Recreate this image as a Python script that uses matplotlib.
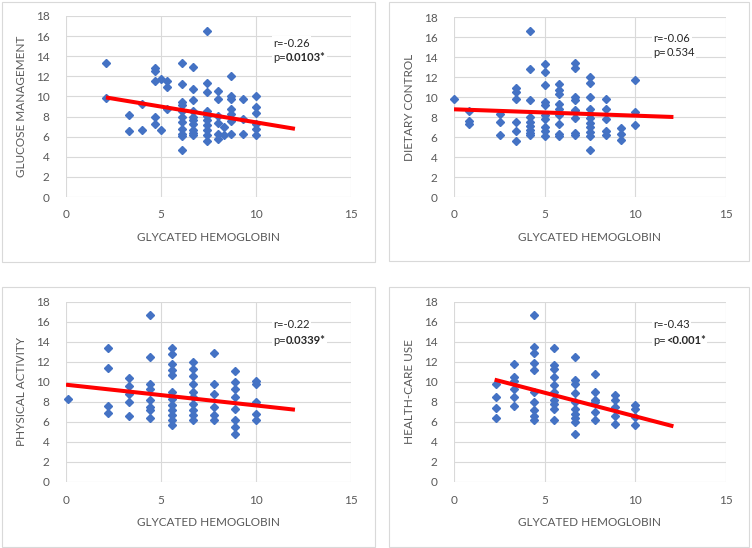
import matplotlib
matplotlib.use("Agg")
import matplotlib.pyplot as plt
from matplotlib.patches import Rectangle

plt.rcParams['font.family'] = ['Lato', 'DejaVu Sans']

# glycated hemoglobin vs glucose management
glucose_x = [2.1, 2.1, 3.3, 3.3, 4.0, 4.0, 4.7, 4.7, 4.7, 4.7, 4.7, 5.0, 5.0, 5.3, 5.3, 5.3,
             6.1, 6.1, 6.1, 6.1, 6.1, 6.1, 6.1, 6.1, 6.1, 6.1, 6.1,
             6.7, 6.7, 6.7, 6.7, 6.7, 6.7, 6.7, 6.7, 6.7, 6.7,
             7.4, 7.4, 7.4, 7.4, 7.4, 7.4, 7.4, 7.4, 7.4, 7.4,
             8.0, 8.0, 8.0, 8.0, 8.0, 8.0, 8.3, 8.3,
             8.7, 8.7, 8.7, 8.7, 8.7, 8.7, 8.7, 9.3, 9.3, 9.3,
             10.0, 10.0, 10.0, 10.0, 10.0, 10.0]
glucose_y = [13.3, 9.8, 8.2, 6.55, 9.2, 6.65, 12.8, 12.5, 11.5, 8.0, 7.25, 11.7, 6.65, 11.5, 10.95, 8.8,
             13.3, 11.2, 9.4, 9.1, 8.6, 8.0, 7.5, 6.8, 6.3, 6.05, 4.7,
             12.9, 10.7, 9.6, 8.6, 8.0, 7.7, 7.25, 6.7, 6.4, 6.15,
             16.5, 11.3, 10.4, 8.6, 8.1, 7.65, 7.15, 6.65, 6.15, 5.55,
             10.55, 9.7, 8.05, 7.4, 6.3, 5.8, 7.0, 6.2,
             12.0, 10.0, 9.75, 8.8, 8.3, 7.6, 6.3, 9.75, 7.8, 6.3,
             10.0, 9.0, 8.4, 7.3, 6.8, 6.15]

# glycated hemoglobin vs dietary control
dietary_x = [0.0, 0.85, 0.85, 0.85, 2.55, 2.55, 2.55,
             3.4, 3.4, 3.4, 3.4, 3.4, 3.4,
             4.2, 4.2, 4.2, 4.2, 4.2, 4.2, 4.2, 4.2, 4.2,
             5.0, 5.0, 5.0, 5.0, 5.0, 5.0, 5.0, 5.0, 5.0, 5.0,
             5.8, 5.8, 5.8, 5.8, 5.8, 5.8, 5.8, 5.8, 5.8,
             6.7, 6.7, 6.7, 6.7, 6.7, 6.7, 6.7, 6.7, 6.7,
             7.5, 7.5, 7.5, 7.5, 7.5, 7.5, 7.5, 7.5, 7.5, 7.5, 7.5,
             8.4, 8.4, 8.4, 8.4, 8.4, 9.2, 9.2, 9.2, 10.0, 10.0, 10.0]
dietary_y = [9.77, 8.6, 7.6, 7.27, 8.33, 7.5, 6.2,
             10.9, 10.5, 9.8, 7.5, 6.6, 5.6,
             16.6, 12.8, 9.67, 8.0, 7.5, 7.07, 6.73, 6.4, 6.17,
             13.33, 12.5, 11.17, 9.5, 9.17, 8.17, 7.83, 7.0, 6.6, 6.07,
             11.33, 10.73, 10.33, 9.27, 8.83, 8.17, 7.27, 6.33, 6.07,
             13.4, 12.9, 10.0, 9.67, 8.73, 8.5, 7.93, 6.4, 6.17,
             12.0, 11.4, 10.0, 8.83, 8.33, 7.93, 7.4, 7.0, 6.5, 6.07, 4.73,
             9.8, 8.8, 7.83, 6.57, 6.17, 6.9, 6.33, 5.73, 11.73, 8.5, 7.17]

# glycated hemoglobin vs physical activity
physical_x = [0.1, 2.2, 2.2, 2.2, 2.2, 3.3, 3.3, 3.3, 3.3, 3.3,
              4.4, 4.4, 4.4, 4.4, 4.4, 4.4, 4.4, 4.4,
              5.6, 5.6, 5.6, 5.6, 5.6, 5.6, 5.6, 5.6, 5.6, 5.6, 5.6, 5.6,
              6.7, 6.7, 6.7, 6.7, 6.7, 6.7, 6.7, 6.7, 6.7, 6.7,
              7.8, 7.8, 7.8, 7.8, 7.8, 7.8,
              8.9, 8.9, 8.9, 8.9, 8.9, 8.9, 8.9, 8.9,
              10.0, 10.0, 10.0, 10.0, 10.0]
physical_y = [8.3, 13.4, 11.43, 7.6, 6.93, 10.43, 9.63, 8.77, 8.0, 6.6,
              16.67, 12.5, 9.83, 9.33, 8.17, 7.5, 7.17, 6.43,
              13.43, 12.83, 11.83, 11.17, 10.67, 9.0, 8.33, 7.67, 7.17, 6.67, 6.17, 5.67,
              12.0, 11.33, 10.57, 9.83, 9.0, 8.5, 7.77, 7.17, 6.67, 6.17,
              12.93, 9.83, 8.83, 7.5, 6.67, 6.17,
              11.07, 10.0, 9.33, 8.5, 7.33, 6.17, 5.5, 4.77,
              10.07, 9.77, 8.0, 6.83, 6.17]

# glycated hemoglobin vs health-care use
health_x = [2.3, 2.3, 2.3, 2.3, 3.3, 3.3, 3.3, 3.3, 3.3, 3.3,
            4.4, 4.4, 4.4, 4.4, 4.4, 4.4, 4.4, 4.4, 4.4, 4.4,
            5.5, 5.5, 5.5, 5.5, 5.5, 5.5, 5.5, 5.5, 5.5, 5.5,
            6.7, 6.7, 6.7, 6.7, 6.7, 6.7, 6.7, 6.7, 6.7, 6.7,
            7.8, 7.8, 7.8, 7.8, 7.8, 7.8,
            8.9, 8.9, 8.9, 8.9, 8.9, 10.0, 10.0, 10.0, 10.0]
health_y = [9.83, 8.5, 7.43, 6.43, 11.77, 10.5, 10.1, 9.33, 8.5, 7.57,
            16.67, 13.5, 12.9, 11.93, 11.17, 9.0, 8.0, 7.23, 6.57, 6.17,
            13.4, 11.67, 11.33, 10.5, 9.67, 9.0, 8.23, 7.77, 7.33, 6.23,
            12.5, 10.17, 9.77, 8.9, 8.0, 7.33, 6.83, 6.43, 6.0, 4.77,
            10.83, 9.0, 8.17, 8.0, 7.0, 6.17,
            8.73, 8.17, 7.5, 6.57, 5.77, 7.73, 7.33, 6.5, 5.67]

# trend lines: (x start, x end, intercept, slope)
glucose_trend = (2.1, 12.05, 10.56, -0.3136)
dietary_trend = (0.0, 12.1, 8.77, -0.0636)
physical_trend = (0.0, 12.05, 9.73, -0.2075)
health_trend = (2.24, 12.1, 11.29, -0.4726)

ylabels = ['GLUCOSE MANAGEMENT', 'DIETARY CONTROL', 'PHYSICAL ACTIVITY', 'HEALTH-CARE USE']
r_texts = ['r=-0.26', 'r=-0.06', 'r=-0.22', 'r=-0.43']
p_values = ['0.0103*', '0.534', '0.0339*', '<0.001*']
p_bold = [True, False, True, True]

panels = [(glucose_x, glucose_y, glucose_trend),
          (dietary_x, dietary_y, dietary_trend),
          (physical_x, physical_y, physical_trend),
          (health_x, health_y, health_trend)]

W, H = 752, 548
fig = plt.figure(figsize=(W / 100, H / 100), dpi=100)

# plot areas in pixels: left, right, top, bottom
areas = [(66, 351, 16, 197), (454, 726, 17, 197), (66, 351, 302, 482), (454, 726, 302, 482)]
# outer chart boxes in pixels
boxes = [(2, 375, 2, 262), (389, 749, 2, 261), (2, 375, 287, 547), (389, 749, 287, 547)]
text_pos = [(10.9, 15.3, 13.9), (11.0, 15.9, 14.4), (10.9, 15.7, 14.2), (11.0, 15.7, 14.2)]

for b in boxes:
    fig.patches.append(Rectangle((b[0] / W, 1 - b[3] / H), (b[1] - b[0]) / W, (b[3] - b[2]) / H,
                                 transform=fig.transFigure, fill=False, edgecolor='#d9d9d9', lw=0.8))

grey = '#595959'
for i, (xs, ys, tr) in enumerate(panels):
    l, r, t, b = areas[i]
    ax = fig.add_axes([l / W, 1 - b / H, (r - l) / W, (b - t) / H])
    ax.set_xlim(0, 15)
    ax.set_ylim(0, 18)
    ax.set_xticks([0, 5, 10, 15])
    ax.set_yticks(range(0, 19, 2))
    ax.grid(True, color='#d9d9d9', lw=0.8)
    ax.set_axisbelow(True)
    for s in ax.spines.values():
        s.set_visible(False)
    ax.tick_params(length=0, labelsize=8.5, colors=grey, pad=12)
    ax.tick_params(axis='x', pad=9)

    ax.plot(xs, ys, 'D', color='#4472c4', ms=4.2, mec='#4472c4', clip_on=False, zorder=3)
    x0, x1, a, k = tr
    ax.plot([x0, x1], [a + k * x0, a + k * x1], color='#ff0000', lw=2.9, solid_capstyle='butt', zorder=4)

    ax.set_xlabel('GLYCATED HEMOGLOBIN', fontsize=8.5, color=grey, labelpad=8)
    ax.set_ylabel(ylabels[i], fontsize=8.5, color=grey, labelpad=6)

    tx, ty1, ty2 = text_pos[i]
    ax.text(tx, ty1, r_texts[i], fontsize=8, color='#262626', va='center', ha='left',
            bbox=dict(fc='white', ec='none', pad=1), zorder=5)
    t = ax.text(tx, ty2, 'p=', fontsize=8, color='#262626', va='center', ha='left',
                bbox=dict(fc='white', ec='none', pad=1), zorder=5)
    ax.annotate(p_values[i], xy=(1, 0.5), xycoords=t, va='center', ha='left', fontsize=8,
                color='#262626', weight='bold' if p_bold[i] else 'normal',
                bbox=dict(fc='white', ec='none', pad=1), zorder=5)

fig.savefig('out.png', dpi=100)
